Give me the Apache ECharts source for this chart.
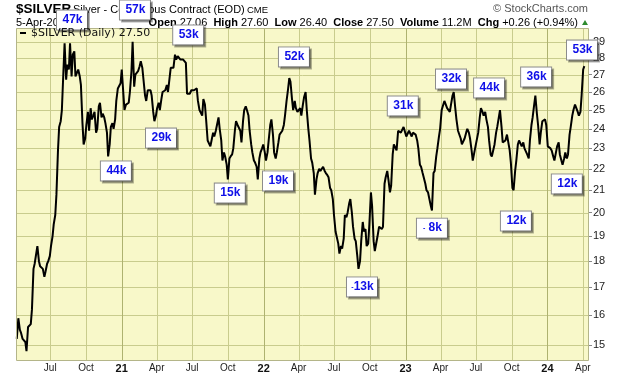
<!DOCTYPE html>
<html>
<head>
<meta charset="utf-8">
<script src="https://cdn.jsdelivr.net/npm/echarts@6/dist/echarts.min.js"></script>
<style>
html, body { margin: 0; padding: 0; background: #fff; }
#chart { width: 620px; height: 376px; }
</style>
</head>
<body>
<div id="chart"></div>
<script>
// end-of-week closes (first point is the start of the series)
var weekDates = [
    '2020-04-06',
    '2020-04-10','2020-04-17','2020-04-24',
    '2020-05-01','2020-05-08','2020-05-15','2020-05-22','2020-05-29',
    '2020-06-05','2020-06-12','2020-06-19','2020-06-26',
    '2020-07-03','2020-07-10','2020-07-17','2020-07-24','2020-07-31',
    '2020-08-07','2020-08-14','2020-08-21','2020-08-28',
    '2020-09-04','2020-09-11','2020-09-18','2020-09-25',
    '2020-10-02','2020-10-09','2020-10-16','2020-10-23','2020-10-30',
    '2020-11-06','2020-11-13','2020-11-20','2020-11-27',
    '2020-12-04','2020-12-11','2020-12-18','2020-12-25',
    '2021-01-01','2021-01-08','2021-01-15','2021-01-22','2021-01-29',
    '2021-02-05','2021-02-12','2021-02-19','2021-02-26',
    '2021-03-05','2021-03-12','2021-03-19','2021-03-26',
    '2021-04-02','2021-04-09','2021-04-16','2021-04-23','2021-04-30',
    '2021-05-07','2021-05-14','2021-05-21','2021-05-28',
    '2021-06-04','2021-06-11','2021-06-18','2021-06-25',
    '2021-07-02','2021-07-09','2021-07-16','2021-07-23','2021-07-30',
    '2021-08-06','2021-08-13','2021-08-20','2021-08-27',
    '2021-09-03','2021-09-10','2021-09-17','2021-09-24',
    '2021-10-01','2021-10-08','2021-10-15','2021-10-22','2021-10-29',
    '2021-11-05','2021-11-12','2021-11-19','2021-11-26',
    '2021-12-03','2021-12-10','2021-12-17','2021-12-24','2021-12-31',
    '2022-01-07','2022-01-14','2022-01-21','2022-01-28',
    '2022-02-04','2022-02-11','2022-02-18','2022-02-25',
    '2022-03-04','2022-03-11','2022-03-18','2022-03-25',
    '2022-04-01','2022-04-08','2022-04-15','2022-04-22','2022-04-29',
    '2022-05-06','2022-05-13','2022-05-20','2022-05-27',
    '2022-06-03','2022-06-10','2022-06-17','2022-06-24',
    '2022-07-01','2022-07-08','2022-07-15','2022-07-22','2022-07-29',
    '2022-08-05','2022-08-12','2022-08-19','2022-08-26',
    '2022-09-02','2022-09-09','2022-09-16','2022-09-23','2022-09-30',
    '2022-10-07','2022-10-14','2022-10-21','2022-10-28',
    '2022-11-04','2022-11-11','2022-11-18','2022-11-25',
    '2022-12-02','2022-12-09','2022-12-16','2022-12-23','2022-12-30',
    '2023-01-06','2023-01-13','2023-01-20','2023-01-27',
    '2023-02-03','2023-02-10','2023-02-17','2023-02-24',
    '2023-03-03','2023-03-10','2023-03-17','2023-03-24','2023-03-31',
    '2023-04-07','2023-04-14','2023-04-21','2023-04-28',
    '2023-05-05','2023-05-12','2023-05-19','2023-05-26',
    '2023-06-02','2023-06-09','2023-06-16','2023-06-23','2023-06-30',
    '2023-07-07','2023-07-14','2023-07-21','2023-07-28',
    '2023-08-04','2023-08-11','2023-08-18','2023-08-25',
    '2023-09-01','2023-09-08','2023-09-15','2023-09-22','2023-09-29',
    '2023-10-06','2023-10-13','2023-10-20','2023-10-27',
    '2023-11-03','2023-11-10','2023-11-17','2023-11-24',
    '2023-12-01','2023-12-08','2023-12-15','2023-12-22','2023-12-29',
    '2024-01-05','2024-01-12','2024-01-19','2024-01-26',
    '2024-02-02','2024-02-09','2024-02-16','2024-02-23',
    '2024-03-01','2024-03-08','2024-03-15','2024-03-22','2024-03-29',
    '2024-04-05'
];
var closes = [
    15.2,
    15.9,15.4,15.2,14.8,15.6,16.2,17.9,18.6,17.8,17.7,
    17.6,18.0,18.6,19.5,20.8,24.1,25.0,28.9,27.6,28.9,
    28.2,26.9,27.3,26.4,23.2,24.2,23.9,24.5,24.9,24.0,
    25.4,24.8,24.3,22.6,24.1,24.0,25.5,26.3,27.3,25.0,
    25.4,26.0,29.0,27.0,27.2,27.8,26.7,25.5,26.2,25.8,
    24.4,25.1,25.0,26.0,26.1,26.0,27.4,27.4,27.9,28.0,
    28.0,28.0,25.9,25.9,26.0,26.2,25.5,25.1,25.6,24.5,
    23.4,23.4,23.6,24.2,24.0,22.4,22.6,21.5,22.6,23.0,
    24.4,24.1,23.3,25.0,25.0,23.9,22.8,22.3,21.5,22.8,
    23.2,22.4,23.4,24.5,22.8,22.8,23.7,23.9,24.7,26.0,
    26.6,25.0,25.1,24.8,24.7,25.7,25.0,23.4,22.3,20.8,
    21.8,21.9,22.1,21.8,21.6,21.0,19.9,19.2,18.3,18.5,
    19.9,20.0,20.6,19.4,18.8,17.7,18.8,19.2,18.6,19.5,
    20.3,18.4,19.0,19.4,19.4,21.6,21.5,21.2,23.2,22.9,
    24.0,23.8,24.2,23.7,23.8,23.8,23.7,23.0,22.1,21.8,
    21.0,20.9,20.1,21.9,23.0,24.0,25.0,25.5,25.2,25.3,
    26.0,24.5,23.8,23.2,23.5,24.0,23.5,22.4,23.1,23.8,
    25.1,24.7,24.5,23.4,22.6,23.2,24.1,25.0,23.3,23.4,
    23.7,22.3,21.0,22.4,23.4,23.1,23.0,22.7,23.4,24.6,
    25.8,24.2,23.8,24.5,24.2,23.1,22.9,22.4,23.1,22.7,
    22.2,22.8,22.7,24.1,25.0,25.2,24.7,25.8,27.5
];

// mid-week (Tuesday) prices
var midDates = [
    '2020-04-14','2020-04-21','2020-04-28',
    '2020-05-05','2020-05-12','2020-05-19','2020-05-26',
    '2020-06-02','2020-06-09','2020-06-16','2020-06-23','2020-06-30',
    '2020-07-07','2020-07-14','2020-07-21','2020-07-28',
    '2020-08-04','2020-08-11','2020-08-18','2020-08-25',
    '2020-09-01','2020-09-08','2020-09-15','2020-09-22','2020-09-29',
    '2020-10-06','2020-10-13','2020-10-20','2020-10-27',
    '2020-11-03','2020-11-10','2020-11-17','2020-11-24',
    '2020-12-01','2020-12-08','2020-12-15','2020-12-22','2020-12-29',
    '2021-01-05','2021-01-12','2021-01-19','2021-01-26',
    '2021-02-02','2021-02-09','2021-02-16','2021-02-23',
    '2021-03-02','2021-03-09','2021-03-16','2021-03-23','2021-03-30',
    '2021-04-06','2021-04-13','2021-04-20','2021-04-27',
    '2021-05-04','2021-05-11','2021-05-18','2021-05-25',
    '2021-06-01','2021-06-08','2021-06-15','2021-06-22','2021-06-29',
    '2021-07-06','2021-07-13','2021-07-20','2021-07-27',
    '2021-08-03','2021-08-10','2021-08-17','2021-08-24','2021-08-31',
    '2021-09-07','2021-09-14','2021-09-21','2021-09-28',
    '2021-10-05','2021-10-12','2021-10-19','2021-10-26',
    '2021-11-02','2021-11-09','2021-11-16','2021-11-23','2021-11-30',
    '2021-12-07','2021-12-14','2021-12-21','2021-12-28',
    '2022-01-04','2022-01-11','2022-01-18','2022-01-25',
    '2022-02-01','2022-02-08','2022-02-15','2022-02-22',
    '2022-03-01','2022-03-08','2022-03-15','2022-03-22','2022-03-29',
    '2022-04-05','2022-04-12','2022-04-19','2022-04-26',
    '2022-05-03','2022-05-10','2022-05-17','2022-05-24','2022-05-31',
    '2022-06-07','2022-06-14','2022-06-21','2022-06-28',
    '2022-07-05','2022-07-12','2022-07-19','2022-07-26',
    '2022-08-02','2022-08-09','2022-08-16','2022-08-23','2022-08-30',
    '2022-09-06','2022-09-13','2022-09-20','2022-09-27',
    '2022-10-04','2022-10-11','2022-10-18','2022-10-25',
    '2022-11-01','2022-11-08','2022-11-15','2022-11-22','2022-11-29',
    '2022-12-06','2022-12-13','2022-12-20','2022-12-27',
    '2023-01-03','2023-01-10','2023-01-17','2023-01-24','2023-01-31',
    '2023-02-07','2023-02-14','2023-02-21','2023-02-28',
    '2023-03-07','2023-03-14','2023-03-21','2023-03-28',
    '2023-04-04','2023-04-11','2023-04-18','2023-04-25',
    '2023-05-02','2023-05-09','2023-05-16','2023-05-23','2023-05-30',
    '2023-06-06','2023-06-13','2023-06-20','2023-06-27',
    '2023-07-04','2023-07-11','2023-07-18','2023-07-25',
    '2023-08-01','2023-08-08','2023-08-15','2023-08-22','2023-08-29',
    '2023-09-05','2023-09-12','2023-09-19','2023-09-26',
    '2023-10-03','2023-10-10','2023-10-17','2023-10-24','2023-10-31',
    '2023-11-07','2023-11-14','2023-11-21','2023-11-28',
    '2023-12-05','2023-12-12','2023-12-19','2023-12-26',
    '2024-01-02','2024-01-09','2024-01-16','2024-01-23','2024-01-30',
    '2024-02-06','2024-02-13','2024-02-20','2024-02-27',
    '2024-03-05','2024-03-12','2024-03-19','2024-03-26',
    '2024-04-02'
];
var midPrices = [
    15.5,15.2,15.1,15.6,15.7,17.7,17.9,18.0,17.8,17.4,
    17.9,18.2,19.0,19.9,22.9,24.4,27.2,26.7,27.3,26.9,
    28.4,26.9,26.9,24.3,23.5,24.9,25.1,24.7,23.8,25.2,
    24.6,24.6,23.8,23.2,24.3,24.5,26.2,26.5,27.3,25.3,
    25.4,27.2,26.3,27.1,27.5,27.4,25.8,26.1,26.1,24.9,
    24.7,25.4,25.6,26.0,26.4,26.8,27.5,28.2,28.1,27.9,
    27.9,27.7,26.0,26.1,26.1,26.2,25.0,24.7,25.3,23.4,
    23.1,23.8,23.9,24.6,23.4,22.8,22.2,22.5,22.7,23.9,
    24.2,23.9,24.4,25.2,24.7,23.2,22.4,22.1,22.5,23.0,
    22.8,22.8,24.2,23.7,22.5,23.3,23.8,24.2,25.5,26.8,
    25.6,25.5,24.9,25.1,25.3,26.0,24.0,22.5,21.8,21.5,
    22.0,21.9,21.9,21.7,21.1,20.6,19.2,18.7,18.6,18.9,
    19.8,20.4,20.0,18.9,18.2,18.0,19.6,19.3,18.7,20.9,
    18.8,18.4,19.4,19.3,21.3,21.9,20.9,22.7,23.2,23.9,
    23.8,24.1,23.6,23.9,23.6,23.8,23.4,22.2,21.8,21.3,
    20.9,20.3,21.8,22.6,23.6,25.0,25.5,25.1,24.9,25.8,
    25.1,23.9,23.5,23.2,23.8,23.8,22.9,22.8,23.2,24.6,
    24.9,24.9,24.1,22.7,22.6,23.8,24.6,24.1,23.2,23.7,
    22.9,21.1,21.9,23.2,23.3,23.3,23.0,22.5,24.2,25.3,
    24.8,23.2,24.4,24.5,23.1,23.0,22.6,22.8,23.3,22.4,
    22.5,22.5,23.7,24.7,25.3,24.9,24.9,27.3
];

// price axis (log scale) tick labels
var priceTicks = [15,16,17,18,19,20,21,22,23,24,25,26,27,28,29];

// quarter ticks on the date axis
var quarterTicks = [
    '2020-07-01','2020-10-01','2021-01-01','2021-04-01','2021-07-01','2021-10-01',
    '2022-01-01','2022-04-01','2022-07-01','2022-10-01','2023-01-01','2023-04-01',
    '2023-07-01','2023-10-01','2024-01-01','2024-04-01'
];
var quarterLabels = ['Jul','Oct','21','Apr','Jul','Oct','22','Apr','Jul','Oct','23','Apr','Jul','Oct','24','Apr'];

// annotation boxes (COT net positions), anchored where they sit on the chart
var noteLabels = ['47k','57k','53k','44k','29k','15k','19k','52k','-13k','31k','- 8k','32k','44k','12k','36k','12k','53k'];
var noteDates = ['2020-08-26','2021-02-04','2021-06-21','2020-12-17','2021-04-12','2021-10-06','2022-02-07','2022-03-20',
    '2022-09-11','2022-12-25','2023-03-10','2023-04-28','2023-08-04','2023-10-12','2023-12-03','2024-02-20','2024-03-30'];
var notePrices = [30.4,31.07,29.43,21.9,23.52,20.87,21.43,28.06,17.02,25.22,19.34,26.74,26.23,19.64,26.86,21.29,28.48];

var sans = "'Liberation Sans', Arial, sans-serif";
var gridColor = '#c9cc8d';
var yearColor = '#aeb270';
var plotBg = '#f8f8c9';

function ts(s) {
    var p = s.split('-');
    return new Date(+p[0], +p[1] - 1, +p[2]).getTime();
}

var xMin = ts('2020-04-04');
var xMax = ts('2024-04-17');
var yMin = Math.log(14.52);
var yMax = Math.log(29.88);
var plot = {left: 16, top: 28, width: 573, height: 332};

var chart = echarts.init(document.getElementById('chart'), null, {renderer: 'canvas'});

var lineData = [];
for (var i = 0; i < weekDates.length; i++) {
    lineData.push([ts(weekDates[i]), Math.log(closes[i])]);
}
for (var k = 0; k < midDates.length; k++) {
    lineData.push([ts(midDates[k]), Math.log(midPrices[k])]);
}
lineData.sort(function (a, b) { return a[0] - b[0]; });

var noteData = [];
for (var j = 0; j < noteLabels.length; j++) {
    noteData.push({name: noteLabels[j], value: [ts(noteDates[j]), Math.log(notePrices[j])]});
}

var quarterValues = quarterTicks.map(ts);
var quarterText = {};
quarterValues.forEach(function (v, n) { quarterText[v] = quarterLabels[n]; });
var logTicks = priceTicks.map(function (p) { return Math.log(p); });

// grid lines at the custom ticks: [x, y, kind] (0 = price line, 1 = quarter, 2 = year)
var gridData = [];
logTicks.forEach(function (v) { gridData.push([xMin, v, 0]); });
quarterValues.forEach(function (v, n) {
    gridData.push([v, yMin, /^\d+$/.test(quarterLabels[n]) ? 2 : 1]);
});

var lastClose = closes[closes.length - 1];

var option = {
    animation: false,
    grid: {
        left: plot.left, top: plot.top,
        width: plot.width, height: plot.height,
        show: false
    },
    xAxis: {
        type: 'value',
        min: xMin,
        max: xMax,
        axisLine: {show: false},
        axisTick: {show: false},
        axisLabel: {
            customValues: quarterValues,
            margin: 3,
            fontSize: 10,
            fontFamily: sans,
            color: '#222',
            formatter: function (v) {
                var t = quarterText[v] || '';
                if (/^\d+$/.test(t)) return '{yr|' + t + '}';
                return t;
            },
            rich: {
                yr: {fontSize: 11, fontWeight: 'bold', fontFamily: sans, color: '#111'}
            }
        },
        splitLine: {show: false}
    },
    yAxis: {
        type: 'value',
        position: 'right',
        min: yMin,
        max: yMax,
        axisLine: {show: false},
        axisTick: {show: true, length: 3, customValues: logTicks, lineStyle: {color: '#888', width: 1}},
        axisLabel: {
            customValues: logTicks,
            margin: 4,
            fontSize: 11,
            fontFamily: sans,
            color: '#222',
            formatter: function (v) { return Math.round(Math.exp(v)); }
        },
        splitLine: {show: false}
    },
    series: [
        {
            name: 'grid',
            type: 'custom',
            silent: true,
            z: 2,
            clip: false,
            data: gridData,
            renderItem: function (params, api) {
                var cs = params.coordSys;
                var kind = api.value(2);
                var pt = api.coord([api.value(0), api.value(1)]);
                var color = kind === 2 ? yearColor : gridColor;
                var shape;
                if (kind === 0) {
                    var y = Math.round(pt[1]) + 0.5;
                    shape = {x1: cs.x, y1: y, x2: cs.x + cs.width, y2: y};
                } else {
                    var x = Math.round(pt[0]) + 0.5;
                    shape = {x1: x, y1: cs.y, x2: x, y2: cs.y + cs.height};
                }
                return {type: 'line', shape: shape, style: {stroke: color, lineWidth: 1}};
            }
        },
        {
            name: '$SILVER',
            type: 'line',
            data: lineData,
            showSymbol: false,
            symbol: 'none',
            lineStyle: {color: '#000', width: 2},
            z: 3
        },
        {
            name: 'notes',
            type: 'scatter',
            data: noteData,
            symbolSize: 0,
            clip: false,
            z: 5,
            itemStyle: {opacity: 1},
            label: {
                show: true,
                position: 'inside',
                formatter: function (p) {
                    var t = p.name;
                    if (t.charAt(0) === '-') {
                        return '{m|-}' + t.slice(1);
                    }
                    return t;
                },
                width: 21,
                height: 13,
                lineHeight: 13,
                align: 'center',
                padding: [3, 4, 3, 5],
                color: '#0f0fe8',
                fontSize: 12,
                fontWeight: 'bold',
                fontFamily: sans,
                backgroundColor: '#fff',
                borderColor: '#8c8c8c',
                borderWidth: 1,
                shadowColor: 'rgba(0,0,0,0.3)',
                shadowOffsetX: 2,
                shadowOffsetY: 2,
                shadowBlur: 0,
                rich: {
                    m: {fontSize: 7, fontWeight: 'bold', color: '#0f0fe8', fontFamily: sans}
                }
            }
        }
    ],
    graphic: [
        {
            type: 'rect', z: -10, silent: true,
            shape: {x: plot.left, y: plot.top, width: plot.width, height: plot.height},
            style: {fill: plotBg}
        },
        {
            type: 'rect', z: 4, silent: true,
            shape: {x: plot.left + 0.5, y: plot.top + 0.5, width: plot.width - 1, height: plot.height},
            style: {fill: 'none', stroke: '#b4b589', lineWidth: 1}
        },
        {
            type: 'text', x: 16, y: 9,
            style: {text: '$SILVER', font: 'bold 13.5px ' + sans, fill: '#000', verticalAlign: 'middle', textVerticalAlign: 'middle'}
        },
        {
            type: 'text', x: 73, y: 9.5,
            style: {text: 'Silver - Continuous Contract (EOD)', font: '11px ' + sans, fill: '#000', verticalAlign: 'middle', textVerticalAlign: 'middle'}
        },
        {
            type: 'text', x: 247, y: 10,
            style: {text: 'CME', font: '9.5px ' + sans, fill: '#000', verticalAlign: 'middle', textVerticalAlign: 'middle'}
        },
        {
            type: 'text', x: 588, y: 9,
            style: {text: '\u00A9 StockCharts.com', font: '11px ' + sans, fill: '#555', align: 'right', textAlign: 'right', verticalAlign: 'middle', textVerticalAlign: 'middle'}
        },
        {
            type: 'text', x: 16, y: 23,
            style: {text: '5-Apr-2024', font: '11px ' + sans, fill: '#000', verticalAlign: 'middle', textVerticalAlign: 'middle'}
        },
        {
            type: 'text', x: 578, y: 23,
            style: {
                text: '{b|Open} 27.06  {b|High} 27.60  {b|Low} 26.40  {b|Close} 27.50  {b|Volume} 11.2M  {b|Chg} +0.26 (+0.94%)',
                font: '11px ' + sans,
                fill: '#000',
                align: 'right', textAlign: 'right',
                verticalAlign: 'middle', textVerticalAlign: 'middle',
                rich: {b: {font: 'bold 11px ' + sans, fill: '#000'}}
            }
        },
        {
            type: 'polygon',
            shape: {points: [[582, 25], [588, 25], [585, 20]]},
            style: {fill: '#2e8b2e'}
        },
        {
            type: 'rect', z: 10,
            shape: {x: 20, y: 32, width: 6, height: 2},
            style: {fill: '#000'}
        },
        {
            type: 'text', x: 31, y: 33.5, z: 10,
            style: {text: '$SILVER (Daily) ' + lastClose.toFixed(2), font: '11px \'DejaVu Sans\', sans-serif', fill: '#111', verticalAlign: 'middle', textVerticalAlign: 'middle'}
        }
    ]
};

chart.setOption(option);
</script>
</body>
</html>
